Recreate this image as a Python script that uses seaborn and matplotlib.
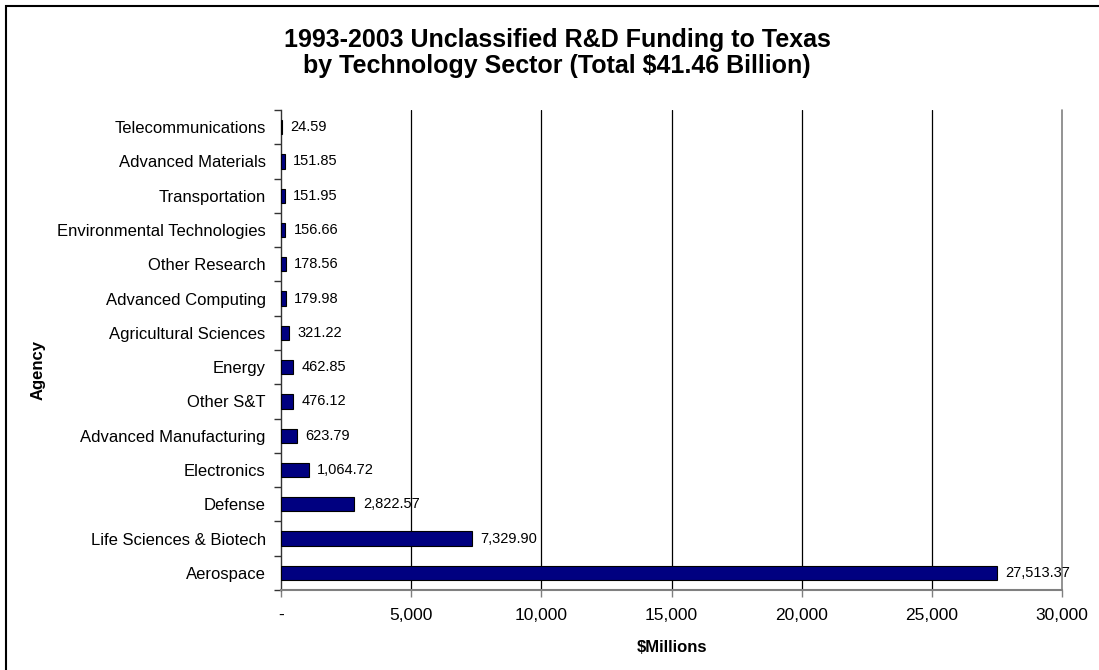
import seaborn as sns
import pandas as pd
import matplotlib.pyplot as plt
from matplotlib.ticker import FuncFormatter, FixedLocator
from matplotlib.patches import Rectangle

sectors = ["Telecommunications", "Advanced Materials", "Transportation",
           "Environmental Technologies", "Other Research", "Advanced Computing",
           "Agricultural Sciences", "Energy", "Other S&T", "Advanced Manufacturing",
           "Electronics", "Defense", "Life Sciences & Biotech", "Aerospace"]
funding = [24.59, 151.85, 151.95, 156.66, 178.56, 179.98, 321.22, 462.85,
           476.12, 623.79, 1064.72, 2822.57, 7329.90, 27513.37]
x_ticks = [0, 5000, 10000, 15000, 20000, 25000, 30000]

df = pd.DataFrame({"sector": sectors, "funding": funding})

sns.set_theme(style="white")
plt.rcParams["font.family"] = ["Liberation Sans", "DejaVu Sans"]
plt.rcParams["text.color"] = "black"
plt.rcParams["axes.labelcolor"] = "black"

fig = plt.figure(figsize=(10.99, 6.70), dpi=100)
ax = fig.add_axes([281 / 1099, 1 - 590 / 670, (1062 - 281) / 1099, 480 / 670])

sns.barplot(data=df, x="funding", y="sector", orient="h", color="#000080",
            saturation=1, width=0.42, edgecolor="black", linewidth=0.8, ax=ax, zorder=3)

ax.set_xlim(0, 30000)
ax.set_ylim(len(sectors) - 0.5, -0.5)
ax.xaxis.set_major_locator(FixedLocator(x_ticks))
ax.xaxis.set_major_formatter(FuncFormatter(lambda v, p: "-" if v == 0 else f"{v:,.0f}"))
for v in x_ticks[1:-1]:
    ax.axvline(v, color="black", linewidth=0.9, zorder=1)
ax.axvline(30000, color="#808080", linewidth=1.2, zorder=1, clip_on=False)

# category separators as ticks on the left axis
ax.set_yticks([i + 0.5 for i in range(-1, len(sectors))], minor=True)
ax.tick_params(axis="y", which="major", length=0, labelsize=12, pad=11, colors="black")
ax.tick_params(axis="y", which="minor", length=5, width=1, color="#333333", left=True)
ax.tick_params(axis="x", which="major", length=5, width=1, color="#808080",
               labelsize=12.5, pad=8, bottom=True, labelcolor="black")

for s in ["top", "right"]:
    ax.spines[s].set_visible(False)
ax.spines["left"].set_color("#333333")
ax.spines["left"].set_linewidth(1)
ax.spines["bottom"].set_color("#808080")
ax.spines["bottom"].set_linewidth(1.5)

for i, v in enumerate(funding):
    ax.annotate(f"{v:,.2f}", (v, i), xytext=(6, 0), textcoords="offset points",
                va="center", ha="left", fontsize=10.5, color="black")

ax.set_xlabel("$Millions", fontsize=12, fontweight="bold", labelpad=12)
ax.set_ylabel("")
fig.text(38 / 1099, 1 - 370 / 670, "Agency", rotation=90, ha="center", va="center",
         fontsize=12, fontweight="bold")

fig.text(557 / 1099, 1 - 53 / 670,
         "1993-2003 Unclassified R&D Funding to Texas\nby Technology Sector (Total $41.46 Billion)",
         ha="center", va="center", fontsize=18, fontweight="bold", linespacing=1.1)

fig.patches.append(Rectangle((6 / 1099, -0.1), 1.2, 1 - 6 / 670 + 0.1, transform=fig.transFigure,
                             fill=False, edgecolor="black", linewidth=1.5))

plt.savefig("out.png", dpi=100)
